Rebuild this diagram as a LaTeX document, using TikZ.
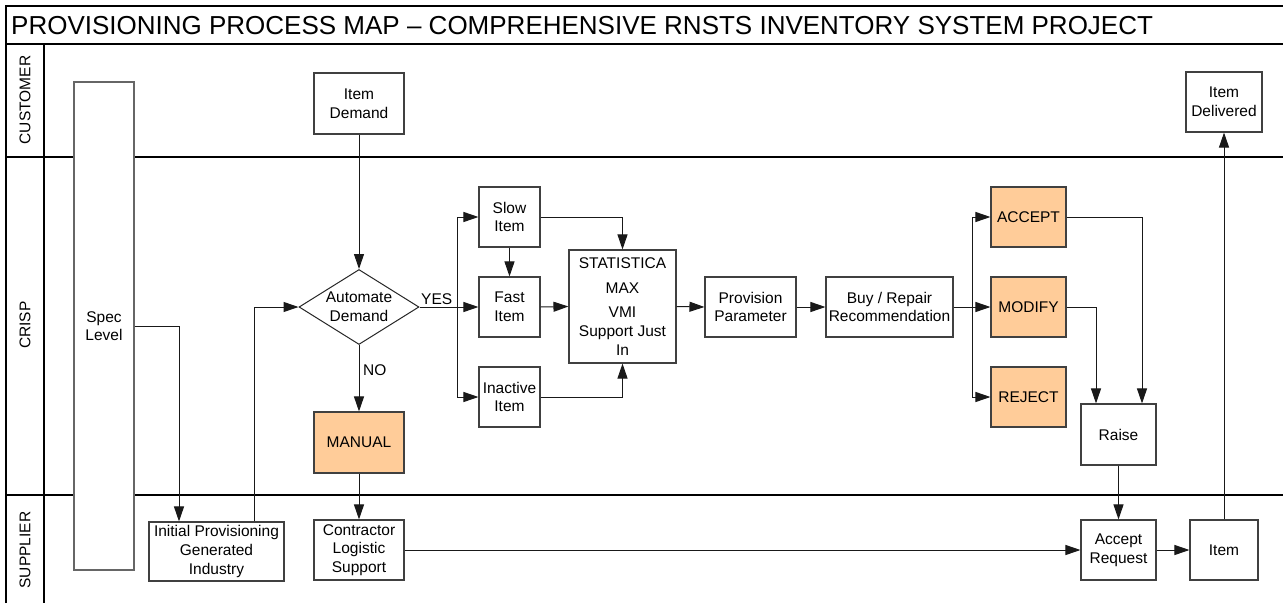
\documentclass[tikz,border=0pt]{standalone}
\usepackage{fontspec}
\setmainfont{Liberation Sans}
\usetikzlibrary{arrows.meta,shapes.geometric}
\definecolor{decision}{HTML}{FFCC99}
\tikzset{
  lane/.style={line width=2pt,black},
  box/.style={draw=black!75,line width=1.1pt,fill=white,inner sep=0pt,align=center,
    font=\fontsize{15.5}{18.6}\selectfont},
  hot/.style={box,fill=decision},
  gate/.style={diamond,draw=black!85,line width=1pt,fill=white,inner sep=0pt,
    minimum width=120pt,minimum height=75pt},
  lbl/.style={inner sep=0pt,font=\fontsize{15.5}{18.6}\selectfont},
  lanelbl/.style={inner sep=0pt,rotate=90,font=\fontsize{15.5}{18.6}\selectfont},
  arr/.style={draw=black!90,line width=1pt,-{Triangle[length=15pt,width=10pt]}},
  wire/.style={draw=black!90,line width=1pt},
}
\begin{document}
\begin{tikzpicture}[x=1pt,y=-1pt]
\useasboundingbox (0,0) rectangle (1283,603);

% frame, title bar and swim lanes
\draw[lane] (6,603) -- (6,6) -- (1283,6);
\draw[lane] (6,44) -- (1283,44);
\draw[lane] (6,157) -- (1283,157);
\draw[lane] (6,495) -- (1283,495);
\draw[lane] (44,44) -- (44,603);
\node[anchor=west,inner sep=0pt,font=\fontsize{26}{30}\selectfont] (title) at (11,26)
  {PROVISIONING PROCESS MAP – COMPREHENSIVE RNSTS INVENTORY SYSTEM PROJECT};
\node[lanelbl] (lcust) at (25,100) {CUSTOMER};
\node[lanelbl] (lcrisp) at (25,325) {CRISP};
\node[lanelbl] (lsupp) at (25,550) {SUPPLIER};

% process steps
\node[box,draw=black!60,minimum width=60pt,minimum height=488pt] (spec) at (104,326) {Spec\\Level};
\node[box,minimum width=135pt,minimum height=59pt] (initprov) at (216.5,551.5) {Initial Provisioning\\Generated\\Industry};
\node[box,minimum width=90pt,minimum height=61pt] (demand) at (359,103.5) {Item\\Demand};
\node[gate] (auto) at (359,307) {};
\node[lbl,align=center] (autotxt) at (359,307) {Automate\\Demand};
\node[hot,minimum width=90pt,minimum height=61pt] (manual) at (359,442.5) {MANUAL};
\node[box,minimum width=90pt,minimum height=60pt] (contractor) at (359,550) {Contractor\\Logistic\\Support};
\node[box,minimum width=61pt,minimum height=60pt] (slow) at (509.5,217) {Slow\\Item};
\node[box,minimum width=61pt,minimum height=60pt] (fast) at (509.5,307) {Fast\\Item};
\node[box,minimum width=61pt,minimum height=60pt] (inactive) at (509.5,397) {Inactive\\Item};
\node[box,minimum width=107pt,minimum height=113pt] (stat) at (622.5,306.5)
  {STATISTICA\\[6pt]MAX\\[6pt]VMI\\Support Just\\In};
\node[box,minimum width=91pt,minimum height=60pt] (prov) at (750.5,307) {Provision\\Parameter};
\node[box,minimum width=127pt,minimum height=60pt] (buy) at (889.5,307) {Buy / Repair\\Recommendation};
\node[hot,minimum width=75pt,minimum height=60pt] (accept) at (1028.5,217) {ACCEPT};
\node[hot,minimum width=75pt,minimum height=60pt] (modify) at (1028.5,307) {MODIFY};
\node[hot,minimum width=75pt,minimum height=60pt] (reject) at (1028.5,397) {REJECT};
\node[box,minimum width=75pt,minimum height=61pt] (raise) at (1118.5,434.5) {Raise};
\node[box,minimum width=75pt,minimum height=60pt] (acceptreq) at (1118.5,550) {Accept\\Request};
\node[box,minimum width=68pt,minimum height=60pt] (item) at (1224,550) {Item};
\node[box,minimum width=76pt,minimum height=60pt] (delivered) at (1224,102) {Item\\Delivered};

% branch points
\coordinate (yes) at (457,307);
\coordinate (bsplit) at (972,307);

% connectors
\draw[arr] (spec.east) -| ([xshift=-37.5pt]initprov.north);
\draw[arr] ([xshift=37.5pt]initprov.north) |- (auto.west);
\draw[arr] (demand.south) -- (auto.north);
\draw[arr] (auto.south) -- (manual.north);
\node[lbl,anchor=west] (nolbl) at (363,370) {NO};
\draw[arr] (manual.south) -- (contractor.north);
\draw[wire] (auto.east) -- (yes);
\node[lbl,anchor=south west] (yeslbl) at (421,305) {YES};
\draw[arr] (yes) |- (slow.west);
\draw[arr] (yes) -- (fast.west);
\draw[arr] (yes) |- (inactive.west);
\draw[arr] (slow.south) -- (fast.north);
\draw[arr] (slow.east) -| (stat.north);
\draw[arr] (fast.east) -- (stat.west);
\draw[arr] (inactive.east) -| (stat.south);
\draw[arr] (stat.east) -- (prov.west);
\draw[arr] (prov.east) -- (buy.west);
\draw[wire] (buy.east) -- (bsplit);
\draw[arr] (bsplit) |- (accept.west);
\draw[arr] (bsplit) -- (modify.west);
\draw[arr] (bsplit) |- (reject.west);
\draw[arr] (modify.east) -| ([xshift=-22.5pt]raise.north);
\draw[arr] (accept.east) -| ([xshift=23.5pt]raise.north);
\draw[arr] (raise.south) -- (acceptreq.north);
\draw[arr] (contractor.east) -- (acceptreq.west);
\draw[arr] (acceptreq.east) -- (item.west);
\draw[arr] (item.north) -- (delivered.south);
\end{tikzpicture}
\end{document}
